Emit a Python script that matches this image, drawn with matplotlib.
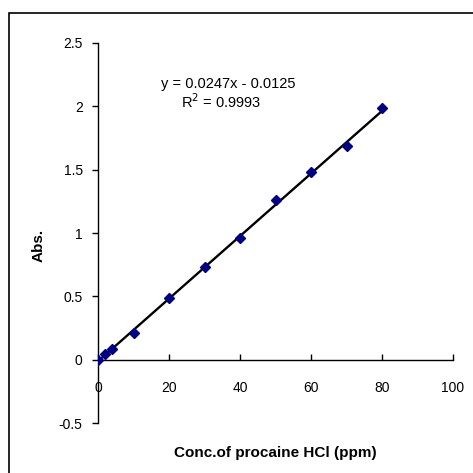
import matplotlib
matplotlib.use("Agg")
import matplotlib.pyplot as plt
from matplotlib.patches import Rectangle

plt.rcParams['font.family'] = ['Liberation Sans', 'DejaVu Sans']

# calibration data
conc = [0, 2, 4, 10, 20, 30, 40, 50, 60, 70, 80]
absorb = [0.0, 0.045, 0.084, 0.213, 0.49, 0.728, 0.963, 1.257, 1.48, 1.689, 1.99]

# trendline as printed on the chart
slope = 0.0247
intercept = -0.0125
fit_x = [0, 80]
eq_text = "y = 0.0247x - 0.0125"
r2_text = "R$^2$ = 0.9993"

fig = plt.figure(figsize=(4.73, 4.73), dpi=100)

# chart-area border, Excel style (runs off the right and bottom edges)
fig.patches.append(Rectangle((8.5 / 473, -0.05), 1.1, 1 - 13.5 / 473 + 0.05,
                             transform=fig.transFigure, fill=False,
                             edgecolor='black', linewidth=1.2))

ax = fig.add_axes([98 / 473, 1 - 423 / 473, 355 / 473, 380 / 473])

fit_y = [slope * x + intercept for x in fit_x]
ax.plot(fit_x, fit_y, color='black', linewidth=1.7, zorder=2)
ax.plot(conc, absorb, linestyle='none', marker='D', markersize=5.2,
        color='#000080', zorder=3)

ax.set_xlim(0, 100)
ax.set_ylim(-0.5, 2.5)
ax.set_xticks([0, 20, 40, 60, 80, 100])
ax.set_yticks([-0.5, 0, 0.5, 1, 1.5, 2, 2.5])
ax.set_yticklabels(['-0.5', '0', '0.5', '1', '1.5', '2', '2.5'])

ax.spines['top'].set_visible(False)
ax.spines['right'].set_visible(False)
ax.spines['bottom'].set_position(('data', 0))
ax.spines['left'].set_linewidth(1.0)
ax.spines['bottom'].set_linewidth(1.0)

ax.tick_params(axis='x', direction='in', length=4, width=1, pad=15, labelsize=10)
ax.tick_params(axis='y', direction='out', length=4, width=1, pad=7, labelsize=10)

ax.text(36.8, 2.18, eq_text, ha='center', va='center', fontsize=10.5)
ax.text(34.8, 2.035, r2_text, ha='center', va='center', fontsize=10.5)

fig.text(275 / 473, 1 - 453 / 473, "Conc.of procaine HCl (ppm)", ha='center',
         va='center', fontsize=11, fontweight='bold')
fig.text(39 / 473, 1 - 245 / 473, "Abs.", ha='center', va='center',
         rotation=90, fontsize=11, fontweight='bold')

fig.savefig("out.png", dpi=100)
